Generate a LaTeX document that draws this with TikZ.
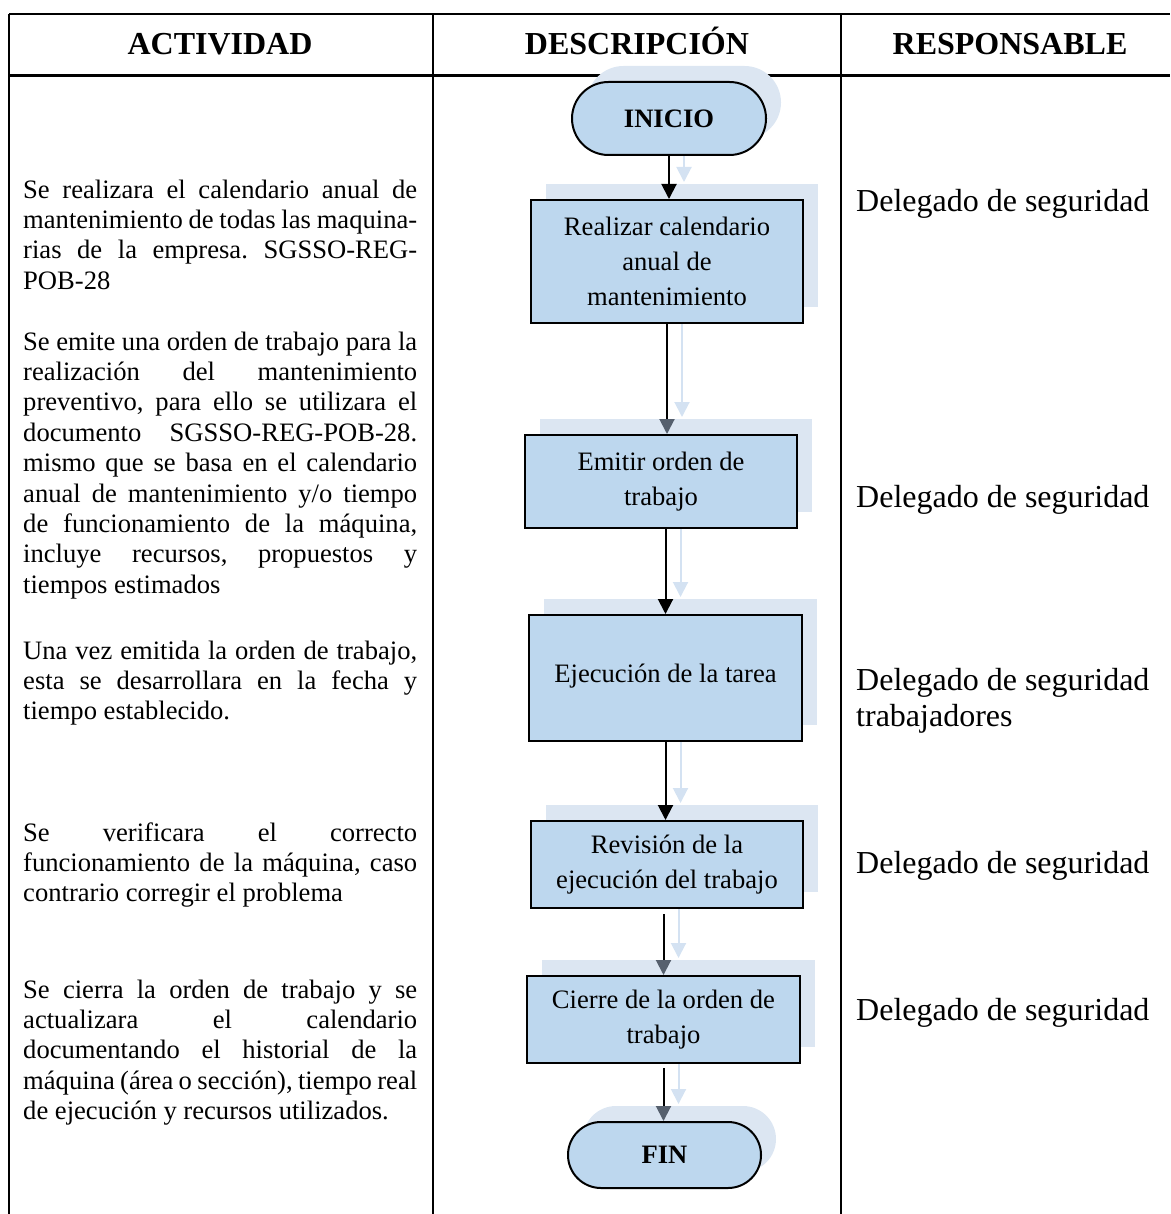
\documentclass[tikz,border=0pt]{standalone}
\usepackage{fontspec}
\setmainfont{Liberation Serif}
\usetikzlibrary{arrows.meta,shapes.misc,shadows,backgrounds}
\definecolor{boxfill}{RGB}{189,215,238}
\definecolor{shadowblue}{RGB}{220,230,242}
\definecolor{sarrowblue}{RGB}{212,226,242}
\definecolor{tipgray}{RGB}{86,96,110}
\newcommand{\jlin}[1]{\makebox[394pt][s]{\strut #1}}
\newcommand{\lastlin}[1]{\makebox[394pt][l]{\strut #1}}
\frenchspacing
\tikzset{
  tbl/.style={line width=2.5pt, black},
  hdr/.style={anchor=base, inner sep=0pt, font=\fontsize{32}{36}\selectfont\bfseries},
  lefttxt/.style={anchor=north west, inner sep=0pt, align=left, font=\fontsize{26.6}{30.4}\selectfont},
  resp/.style={anchor=base west, inner sep=0pt, align=left, font=\fontsize{32}{36}\selectfont},
  shad/.style={drop shadow={shadow xshift=15pt, shadow yshift=16pt, fill=shadowblue, opacity=1}},
  procbox/.style={rectangle, draw=black, line width=2pt, fill=boxfill, align=center, inner sep=0pt,
    font=\fontsize{26.6}{35}\selectfont, shad},
  term/.style={rounded rectangle, draw=black, line width=2pt, fill=boxfill, inner sep=0pt,
    font=\fontsize{26.6}{32}\selectfont\bfseries, shad},
  arr/.style={line width=2pt, black, -{Triangle[width=15pt,length=15pt]}},
  arrg/.style={line width=2pt, black, -{Triangle[width=15pt,length=15pt,color=tipgray]}},
  sarr/.style={line width=2pt, sarrowblue, -{Triangle[width=15pt,length=15pt]}}
}
\begin{document}
\begin{tikzpicture}[x=1pt,y=-1pt]
\useasboundingbox (0,0) rectangle (1170,1214);
% table
\draw[tbl] (9,14) -- (1170,14);
\draw[tbl] (9,75.5) -- (1170,75.5);
\draw[tbl] (9,14) -- (9,1214);
\draw[tbl] (433,14) -- (433,1214);
\draw[tbl] (841,14) -- (841,1214);
% headers
\node[hdr] (h1) at (220,55) {ACTIVIDAD};
\node[hdr] (h2) at (637,55) {DESCRIPCIÓN};
\node[hdr] (h3) at (1010,55) {RESPONSABLE};
% left column
\node[lefttxt] (p1) at (23,176.7) {\jlin{Se realizara el calendario anual de}\\
\jlin{mantenimiento de todas las maquina-}\\
\jlin{rias de la empresa. SGSSO-REG-}\\
\lastlin{POB-28}};
\node[lefttxt] (p2) at (23,328.7) {\jlin{Se emite una orden de trabajo para la}\\
\jlin{realización del mantenimiento}\\
\jlin{preventivo, para ello se utilizara el}\\
\jlin{documento SGSSO-REG-POB-28.}\\
\jlin{mismo que se basa en el calendario}\\
\jlin{anual de mantenimiento y/o tiempo}\\
\jlin{de funcionamiento de la máquina,}\\
\jlin{incluye recursos, propuestos y}\\
\lastlin{tiempos estimados}};
\node[lefttxt] (p3) at (23,637.7) {\jlin{Una vez emitida la orden de trabajo,}\\
\jlin{esta se desarrollara en la fecha y}\\
\lastlin{tiempo establecido.}};
\node[lefttxt] (p4) at (23,819.7) {\jlin{Se verificara el correcto}\\
\jlin{funcionamiento de la máquina, caso}\\
\lastlin{contrario corregir el problema}};
\node[lefttxt] (p5) at (23,976.7) {\jlin{Se cierra la orden de trabajo y se}\\
\jlin{actualizara el calendario}\\
\jlin{documentando el historial de la}\\
\jlin{máquina (área o sección), tiempo real}\\
\lastlin{de ejecución y recursos utilizados.}};
% right column
\node[resp] (r1) at (856,212) {Delegado de seguridad};
\node[resp] (r2) at (856,507) {Delegado de seguridad};
\node[resp] (r3) at (856,690) {Delegado de seguridad};
\node[resp] (r3b) at (856,726) {trabajadores};
\node[resp] (r4) at (856,873) {Delegado de seguridad};
\node[resp] (r5) at (856,1020) {Delegado de seguridad};
% flow
\node[term, minimum width=194pt, minimum height=73pt] (inicio) at (669,118.5) {INICIO};
\node[procbox, minimum width=272pt, minimum height=123pt] (b1) at (667,261.5) {Realizar calendario\\anual de\\mantenimiento};
\node[procbox, minimum width=272pt, minimum height=93pt] (b2) at (661,481.5) {Emitir orden de\\trabajo};
\node[procbox, minimum width=273pt, minimum height=126pt] (b3) at (665.5,678) {\raisebox{10pt}{Ejecución de la tarea}};
\node[procbox, minimum width=272pt, minimum height=87pt] (b4) at (667,864.5) {Revisión de la\\ejecución del trabajo};
\node[procbox, minimum width=273pt, minimum height=87pt] (b5) at (663.5,1019.5) {Cierre de la orden de\\trabajo};
\node[term, minimum width=193pt, minimum height=66pt] (fin) at (664.5,1155) {FIN};
% shadow connectors
\begin{scope}[on background layer]
\draw[sarr] ([xshift=15pt,yshift=16pt]inicio.south) -- ([xshift=15pt,yshift=17pt]inicio.south |- b1.north);
\draw[sarr] ([xshift=15pt,yshift=16pt]b1.south) -- ([xshift=15pt,yshift=17pt]b1.south |- b2.north);
\draw[sarr] ([xshift=15pt,yshift=16pt]b3.north |- b2.south) -- ([xshift=15pt,yshift=17pt]b3.north);
\draw[sarr] ([xshift=15pt,yshift=16pt]b3.south) -- ([xshift=15pt,yshift=17pt]b3.south |- b4.north);
\draw[sarr] ([xshift=15pt,yshift=16pt]b5.north |- b4.south) -- ([xshift=15pt,yshift=17pt]b5.north);
\draw[sarr] ([xshift=15pt,yshift=16pt]b5.south) -- ([xshift=15pt,yshift=17pt]b5.south |- fin.north);
\end{scope}
% connectors
\draw[arr] (inicio.south) -- (inicio.south |- b1.north);
\draw[arrg] (b1.south) -- (b1.south |- b2.north);
\draw[arr] (b3.north |- b2.south) -- (b3.north);
\draw[arr] (b3.south) -- (b3.south |- b4.north);
\draw[arrg, shorten <=5pt] (b5.north |- b4.south) -- (b5.north);
\draw[arrg, shorten <=4pt] (b5.south) -- (b5.south |- fin.north);
\end{tikzpicture}
\end{document}
